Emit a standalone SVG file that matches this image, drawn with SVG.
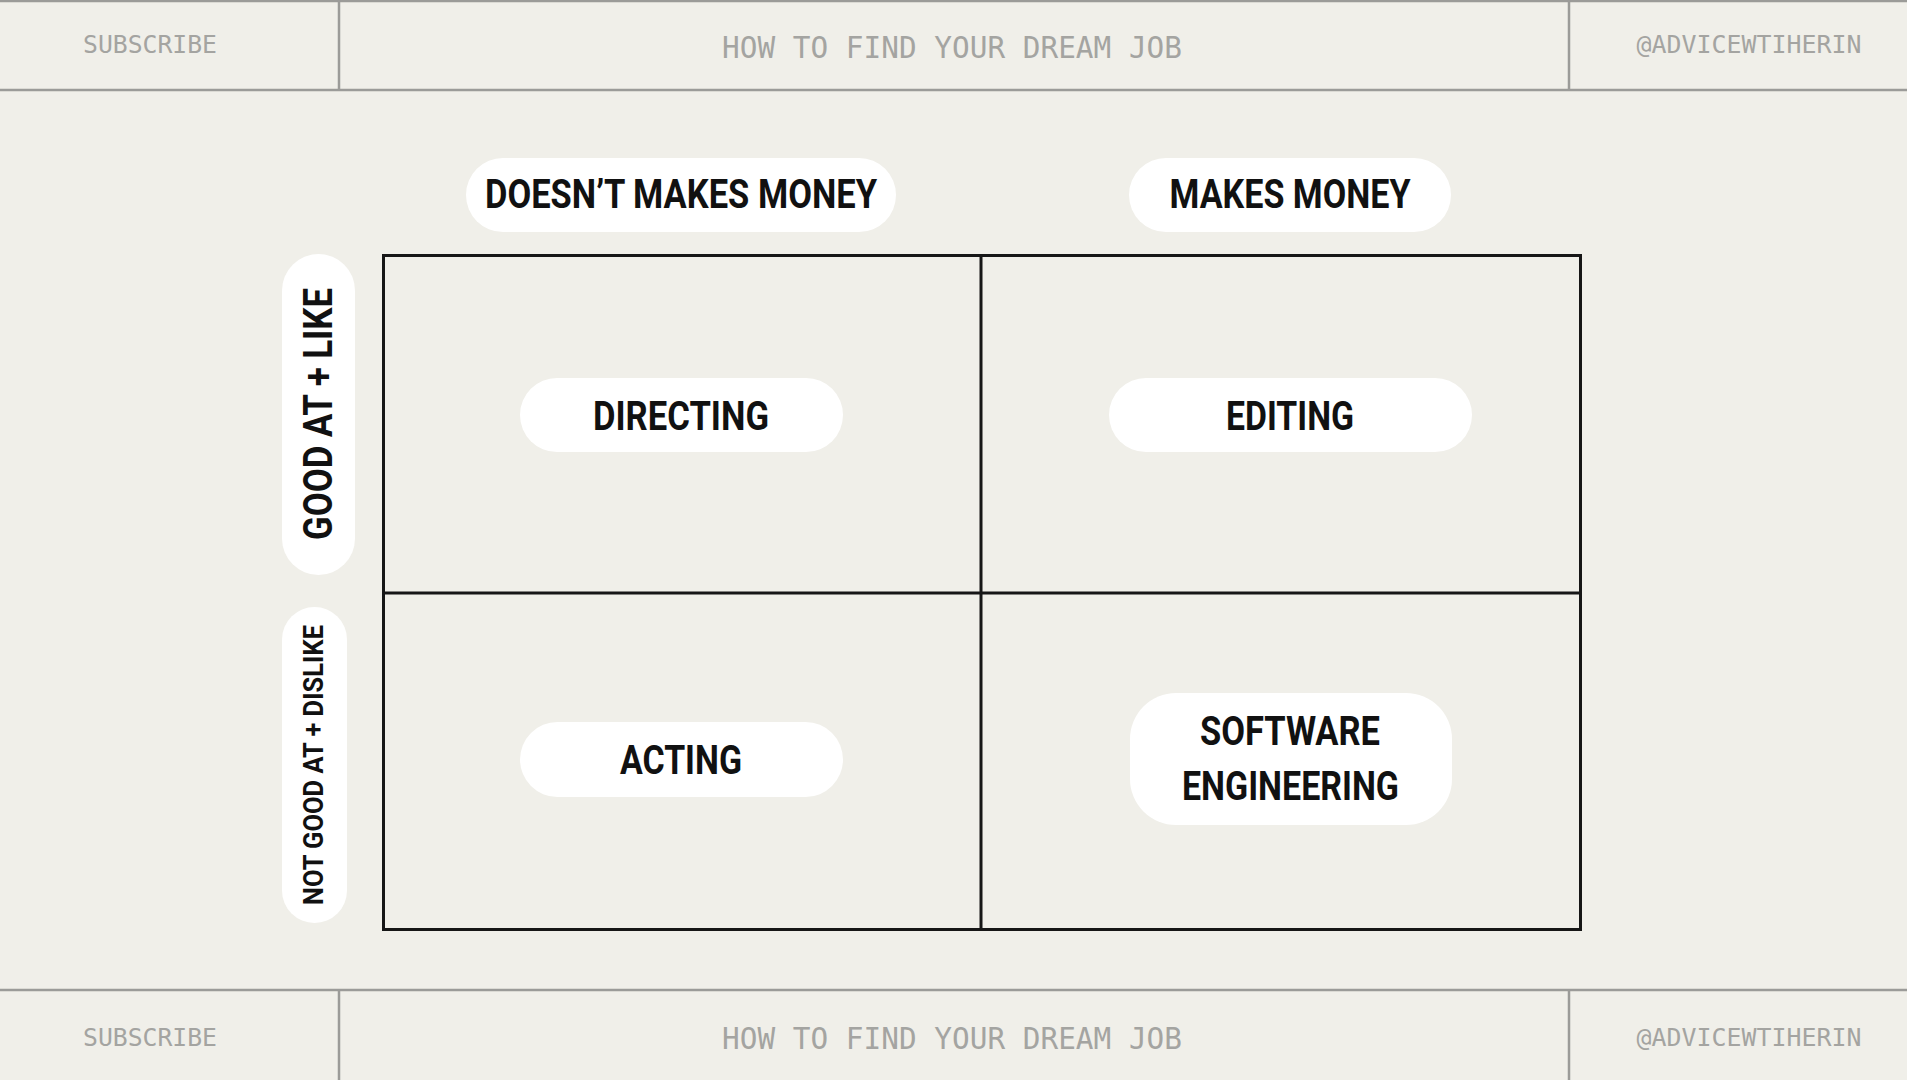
<svg xmlns="http://www.w3.org/2000/svg" width="1907" height="1080" viewBox="0 0 1907 1080">
  <style>
    .bg { fill: #f0efe9; }
    .rule { stroke: #9b9b98; stroke-width: 2.5; fill: none; }
    .meta { font-family: "DejaVu Sans Mono", "Liberation Mono", monospace; fill: #a4a4a1; }
    .pill { fill: #ffffff; }
    .lbl { font-family: Roboto, "Liberation Sans", sans-serif; font-weight: 700; fill: #111111; text-anchor: middle; }
    .grid { stroke: #161616; stroke-width: 3; fill: none; }
  </style>

  <rect class="bg" x="0" y="0" width="1907" height="1080"/>

  <!-- header bar -->
  <g id="header">
    <line class="rule" x1="0" y1="1" x2="1907" y2="1"/>
    <line class="rule" x1="0" y1="90" x2="1907" y2="90"/>
    <line class="rule" x1="339" y1="0" x2="339" y2="90"/>
    <line class="rule" x1="1569" y1="0" x2="1569" y2="90"/>
    <text class="meta" x="150" y="53" font-size="24.5" text-anchor="middle" textLength="134" lengthAdjust="spacingAndGlyphs">SUBSCRIBE</text>
    <text class="meta" x="952" y="58" font-size="30" text-anchor="middle" textLength="460" lengthAdjust="spacingAndGlyphs">HOW TO FIND YOUR DREAM JOB</text>
    <text class="meta" x="1749" y="53" font-size="24.5" text-anchor="middle" textLength="225" lengthAdjust="spacingAndGlyphs">@ADVICEWTIHERIN</text>
  </g>

  <!-- footer bar -->
  <g id="footer">
    <line class="rule" x1="0" y1="990" x2="1907" y2="990"/>
    <line class="rule" x1="339" y1="990" x2="339" y2="1080"/>
    <line class="rule" x1="1569" y1="990" x2="1569" y2="1080"/>
    <text class="meta" x="150" y="1046" font-size="24.5" text-anchor="middle" textLength="134" lengthAdjust="spacingAndGlyphs">SUBSCRIBE</text>
    <text class="meta" x="952" y="1049" font-size="30" text-anchor="middle" textLength="460" lengthAdjust="spacingAndGlyphs">HOW TO FIND YOUR DREAM JOB</text>
    <text class="meta" x="1749" y="1046" font-size="24.5" text-anchor="middle" textLength="225" lengthAdjust="spacingAndGlyphs">@ADVICEWTIHERIN</text>
  </g>

  <!-- 2x2 matrix -->
  <g id="grid">
    <rect class="grid" x="383.5" y="255.5" width="1197" height="674"/>
    <line class="grid" x1="981" y1="255" x2="981" y2="930"/>
    <line class="grid" x1="383" y1="593" x2="1581" y2="593"/>
  </g>

  <!-- column headings -->
  <g id="col-no-money">
    <rect class="pill" x="466" y="158" width="430" height="74" rx="37"/>
    <text class="lbl" x="681" y="208" font-size="41" textLength="392" lengthAdjust="spacingAndGlyphs">DOESN’T MAKES MONEY</text>
  </g>
  <g id="col-money">
    <rect class="pill" x="1129" y="158" width="322" height="74" rx="37"/>
    <text class="lbl" x="1290" y="208" font-size="41" textLength="241" lengthAdjust="spacingAndGlyphs">MAKES MONEY</text>
  </g>

  <!-- row headings -->
  <g id="row-good">
    <rect class="pill" x="282" y="254" width="73" height="321" rx="36.5"/>
    <text class="lbl" transform="translate(332 414) rotate(-90)" x="0" y="0" font-size="41" textLength="252" lengthAdjust="spacingAndGlyphs">GOOD AT + LIKE</text>
  </g>
  <g id="row-bad">
    <rect class="pill" x="282" y="607" width="65" height="316" rx="32.5"/>
    <text class="lbl" transform="translate(323 765) rotate(-90)" x="0" y="0" font-size="27" textLength="280" lengthAdjust="spacingAndGlyphs">NOT GOOD AT + DISLIKE</text>
  </g>

  <!-- quadrant entries -->
  <g id="directing">
    <rect class="pill" x="520" y="378" width="323" height="74" rx="37"/>
    <text class="lbl" x="681" y="430" font-size="41" textLength="176" lengthAdjust="spacingAndGlyphs">DIRECTING</text>
  </g>
  <g id="editing">
    <rect class="pill" x="1109" y="378" width="363" height="74" rx="37"/>
    <text class="lbl" x="1290" y="430" font-size="41" textLength="128" lengthAdjust="spacingAndGlyphs">EDITING</text>
  </g>
  <g id="acting">
    <rect class="pill" x="520" y="722" width="323" height="75" rx="37.5"/>
    <text class="lbl" x="681" y="774" font-size="41" textLength="122" lengthAdjust="spacingAndGlyphs">ACTING</text>
  </g>
  <g id="software-engineering">
    <rect class="pill" x="1130" y="693" width="322" height="132" rx="46"/>
    <text class="lbl" x="1290" y="745" font-size="40" textLength="180" lengthAdjust="spacingAndGlyphs">SOFTWARE</text>
    <text class="lbl" x="1290.5" y="800" font-size="40" textLength="217" lengthAdjust="spacingAndGlyphs">ENGINEERING</text>
  </g>
</svg>
